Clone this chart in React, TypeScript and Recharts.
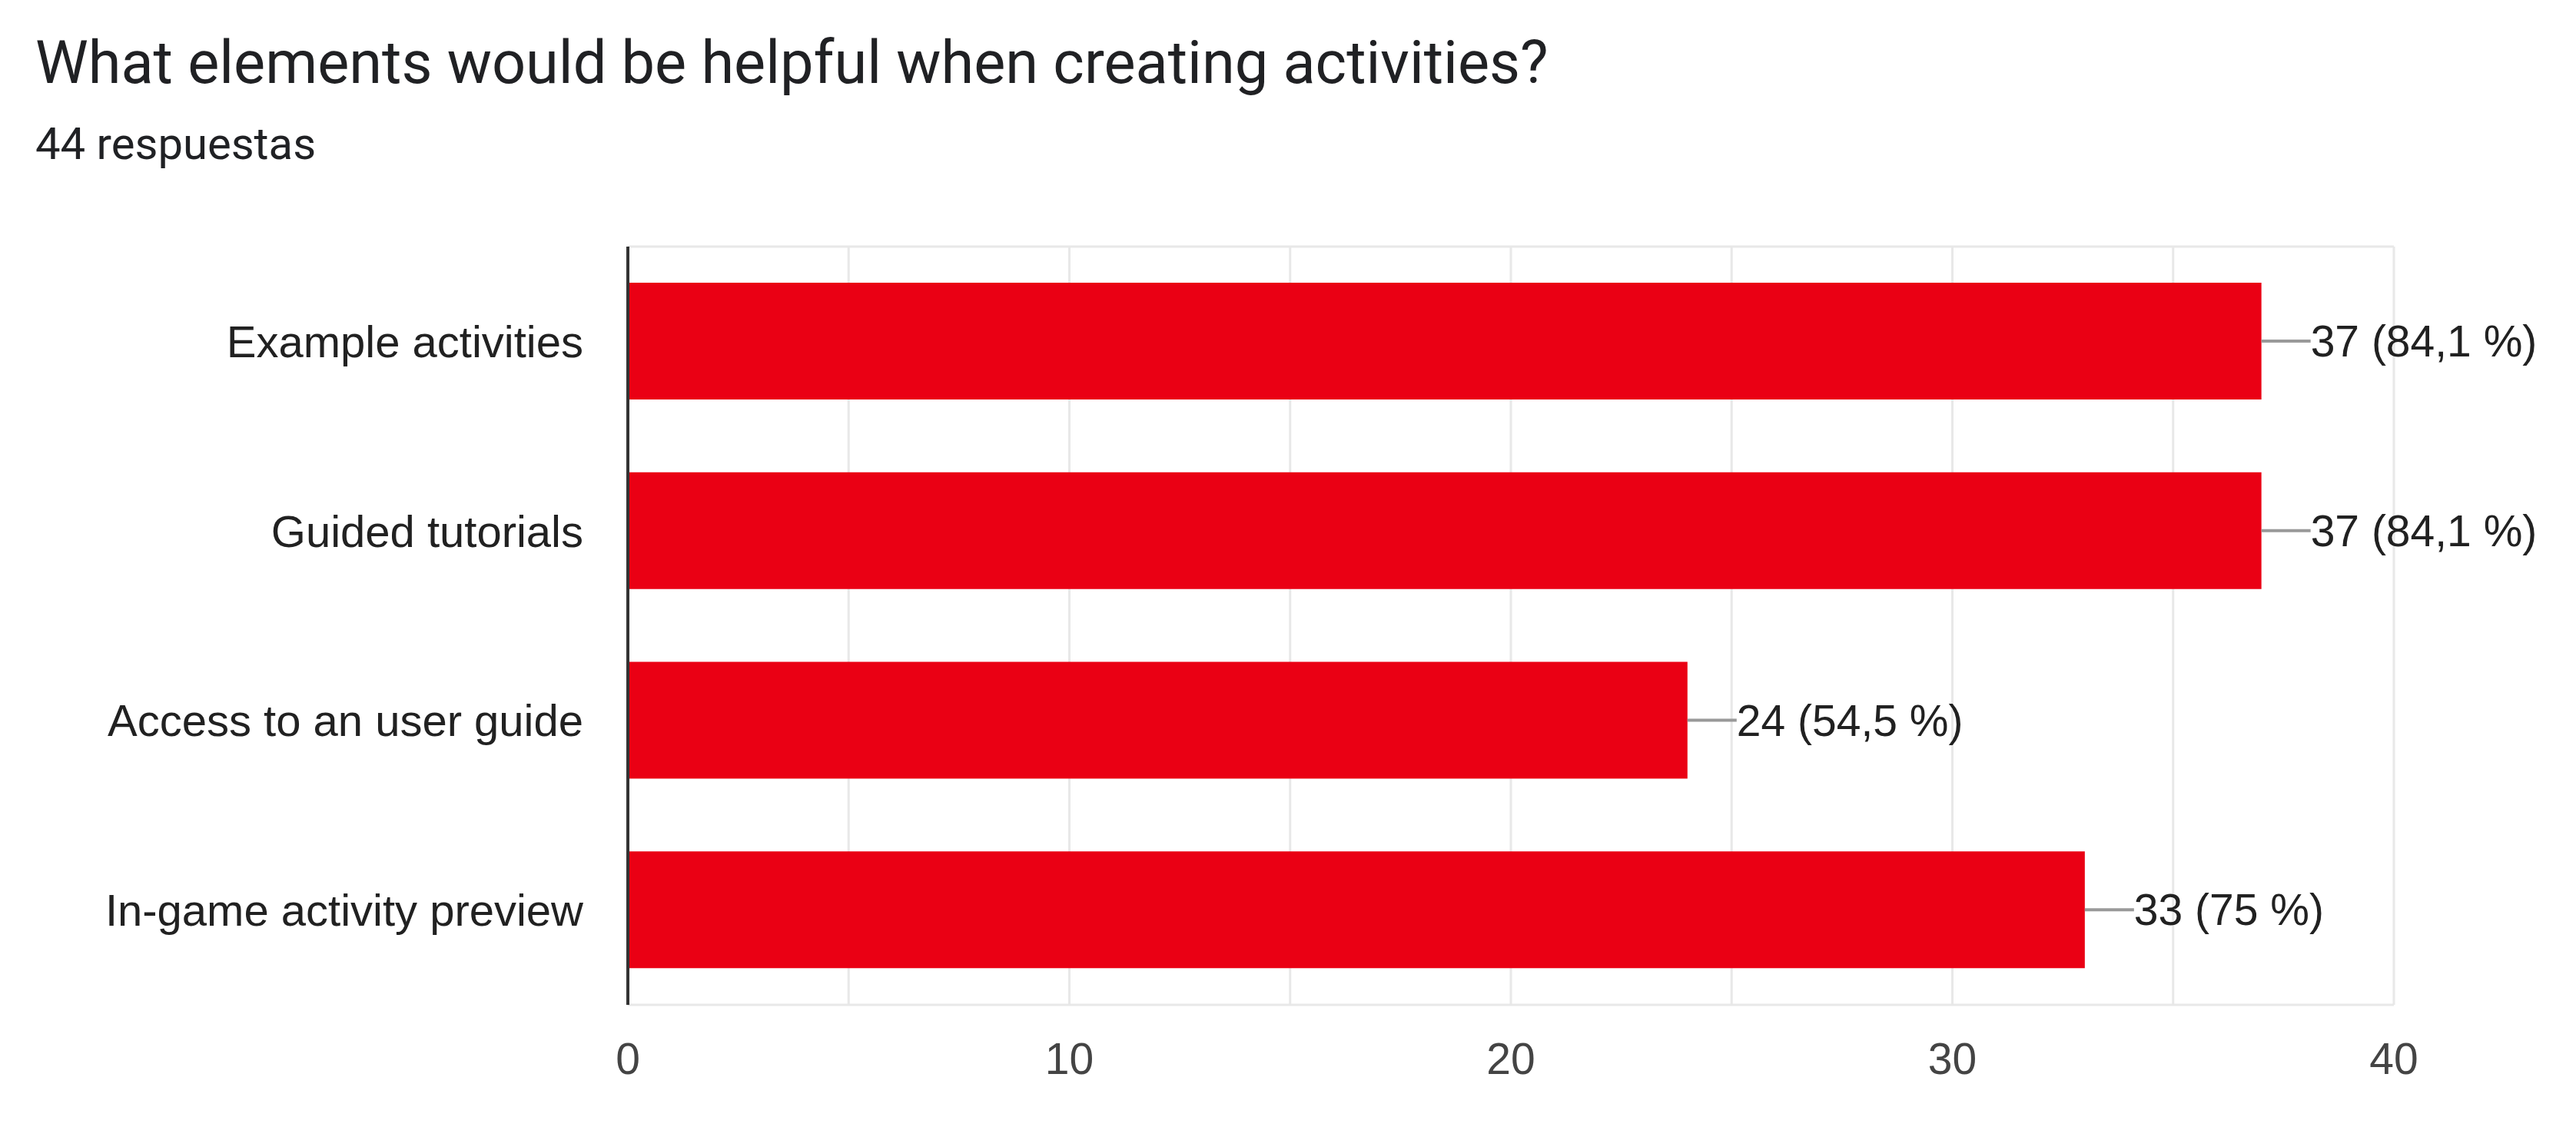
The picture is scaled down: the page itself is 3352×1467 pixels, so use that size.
import { Bar, BarChart, CartesianGrid, LabelList, XAxis, YAxis } from "recharts";

const categories = [
  "Example activities",
  "Guided tutorials",
  "Access to an user guide",
  "In-game activity preview"
];
const counts = [37, 37, 24, 33];
const percents = ["84,1", "84,1", "54,5", "75"];
const xTicks = [0, 10, 20, 30, 40];
const gridValues = [5, 10, 15, 20, 25, 30, 35, 40];
const xMax = 40;

const data = categories.map((name, i) => ({ name, count: counts[i], pct: percents[i] }));

const labelFont = "'Liberation Sans', Arial, sans-serif";

function ValueLabel(props: any) {
  const { x, y, width, height, index } = props;
  const endX = x + width;
  const midY = y + height / 2;
  return (
    <g>
      <line x1={endX} y1={midY} x2={endX + 64} y2={midY} stroke="#999" strokeWidth={4} />
      <text
        x={endX + 64}
        y={midY}
        dominantBaseline="central"
        fontSize={57}
        fontFamily={labelFont}
        fill="#212121"
      >
        {`${counts[index]} (${percents[index]} %)`}
      </text>
    </g>
  );
}

export default function App() {
  return (
    <div
      style={{
        position: "absolute",
        left: 0,
        top: 0,
        width: 3352,
        height: 1467,
        background: "#fff",
        overflow: "hidden"
      }}
    >
      <div
        style={{
          position: "absolute",
          left: 46,
          top: 32,
          fontFamily: "Roboto, sans-serif",
          fontSize: 77.5,
          lineHeight: "100px",
          color: "#202124",
          whiteSpace: "nowrap"
        }}
      >
        What elements would be helpful when creating activities?
      </div>
      <div
        style={{
          position: "absolute",
          left: 46,
          top: 152,
          fontFamily: "Roboto, sans-serif",
          fontSize: 58,
          lineHeight: "70px",
          color: "#202124",
          whiteSpace: "nowrap"
        }}
      >
        44 respuestas
      </div>
      <div style={{ position: "absolute", left: 0, top: 0 }}>
        <BarChart
          width={3352}
          height={1467}
          data={data}
          layout="vertical"
          margin={{ top: 321, right: 237, bottom: 129, left: 0 }}
        >
          <CartesianGrid
            stroke="#e8e8e8"
            strokeWidth={3}
            horizontalCoordinatesGenerator={({ offset }: any) => [offset.top, offset.top + offset.height]}
            verticalCoordinatesGenerator={({ offset }: any) =>
              gridValues.map((v) => offset.left + (v / xMax) * offset.width)
            }
          />
          <XAxis
            type="number"
            domain={[0, xMax]}
            ticks={xTicks}
            height={30}
            axisLine={false}
            tickLine={false}
            tickSize={0}
            tickMargin={50}
            tick={{ fontSize: 57, fontFamily: labelFont, fill: "#444" }}
          />
          <YAxis
            type="category"
            dataKey="name"
            width={817}
            axisLine={{ stroke: "#333", strokeWidth: 4 }}
            tickLine={false}
            tickSize={0}
            tickMargin={58}
            tick={{ fontSize: 58, fontFamily: labelFont, fill: "#212121" }}
          />
          <Bar dataKey="count" fill="#ea0014" barSize={152} isAnimationActive={false}>
            <LabelList dataKey="count" content={<ValueLabel />} />
          </Bar>
        </BarChart>
      </div>
    </div>
  );
}
